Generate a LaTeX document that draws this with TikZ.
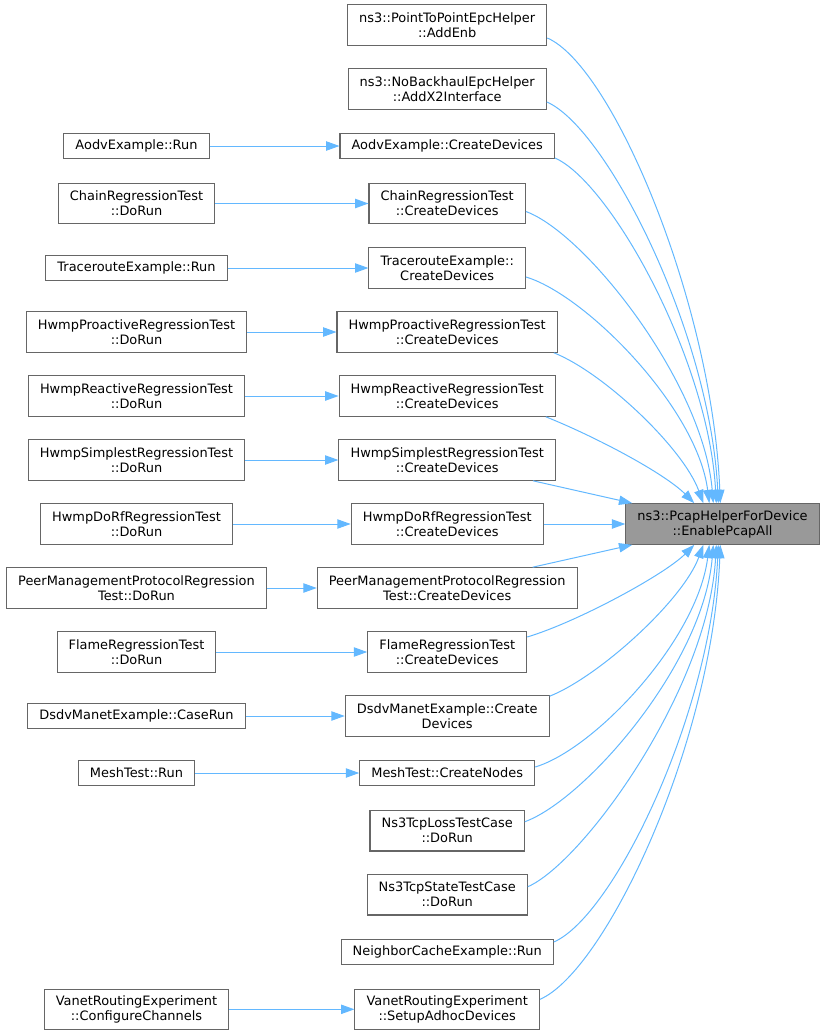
\documentclass[tikz,border=0pt]{standalone}
\usepackage{fontspec}
\setmainfont{DejaVu Sans}
\usetikzlibrary{arrows.meta}
\definecolor{callblue}{RGB}{99,184,255}
\definecolor{boxgray}{RGB}{102,102,102}
\definecolor{tgtgray}{RGB}{153,153,153}
\tikzset{
  fn/.style={draw=boxgray, line width=0.8pt, fill=white, font=\fontsize{9.7pt}{11.25pt}\selectfont,
    inner xsep=8.7pt, inner ysep=1pt, minimum height=19.1pt, align=center},
  fn2/.style={fn, minimum height=30.4pt},
  tgt/.style={fn2, fill=tgtgray},
  call/.style={draw=callblue, line width=0.75pt, -{Triangle[length=10pt,width=7pt]}}
}
\begin{document}
\begin{tikzpicture}[x=0.75pt,y=-0.75pt]
 \useasboundingbox (0,0) rectangle (824,1035);
 % called function
 \node[tgt] (pcapAll) at (722.5,524) {ns3::PcapHelperForDevice\\::EnablePcapAll};
 % direct callers
 \node[fn2] (enbAdd) at (447.2,25) {ns3::PointToPointEpcHelper\\::AddEnb};
 \node[fn2] (x2Add) at (447.2,89) {ns3::NoBackhaulEpcHelper\\::AddX2Interface};
 \node[fn] (aodvDev) at (447.2,146) {AodvExample::CreateDevices};
 \node[fn2] (chainDev) at (447.2,203.5) {ChainRegressionTest\\::CreateDevices};
 \node[fn2] (traceDev) at (447.2,268) {TracerouteExample::\\CreateDevices};
 \node[fn2] (proDev) at (447.2,332) {HwmpProactiveRegressionTest\\::CreateDevices};
 \node[fn2] (reaDev) at (447.2,396) {HwmpReactiveRegressionTest\\::CreateDevices};
 \node[fn2] (simDev) at (447.2,460) {HwmpSimplestRegressionTest\\::CreateDevices};
 \node[fn2] (dorfDev) at (447.2,524) {HwmpDoRfRegressionTest\\::CreateDevices};
 \node[fn2] (peerDev) at (447.2,588) {PeerManagementProtocolRegression\\Test::CreateDevices};
 \node[fn2] (flameDev) at (447.2,652) {FlameRegressionTest\\::CreateDevices};
 \node[fn2] (dsdvDev) at (447.2,716) {DsdvManetExample::Create\\Devices};
 \node[fn] (meshDev) at (447.2,773) {MeshTest::CreateNodes};
 \node[fn2] (lossRun) at (447.2,830.7) {Ns3TcpLossTestCase\\::DoRun};
 \node[fn2] (stateRun) at (447.2,894.7) {Ns3TcpStateTestCase\\::DoRun};
 \node[fn] (cacheRun) at (447.2,952) {NeighborCacheExample::Run};
 \node[fn2] (vanetDev) at (447.2,1009.3) {VanetRoutingExperiment\\::SetupAdhocDevices};
 % second level callers
 \node[fn] (aodvRun) at (136.5,146) {AodvExample::Run};
 \node[fn2] (chainRun) at (136.5,203.5) {ChainRegressionTest\\::DoRun};
 \node[fn] (traceRun) at (136.5,268) {TracerouteExample::Run};
 \node[fn2] (proRun) at (136.5,332) {HwmpProactiveRegressionTest\\::DoRun};
 \node[fn2] (reaRun) at (136.5,396) {HwmpReactiveRegressionTest\\::DoRun};
 \node[fn2] (simRun) at (136.5,460) {HwmpSimplestRegressionTest\\::DoRun};
 \node[fn2] (dorfRun) at (136.5,524) {HwmpDoRfRegressionTest\\::DoRun};
 \node[fn2] (peerRun) at (136.5,588) {PeerManagementProtocolRegression\\Test::DoRun};
 \node[fn2] (flameRun) at (136.5,652) {FlameRegressionTest\\::DoRun};
 \node[fn] (dsdvRun) at (136.5,716) {DsdvManetExample::CaseRun};
 \node[fn] (meshRun) at (136.5,773) {MeshTest::Run};
 \node[fn2] (vanetRun) at (136.5,1009.3) {VanetRoutingExperiment\\::ConfigureChannels};
 % left to middle
 \draw[call] (aodvRun) -- (aodvDev);
 \draw[call] (chainRun) -- (chainDev);
 \draw[call] (traceRun) -- (traceDev);
 \draw[call] (proRun) -- (proDev);
 \draw[call] (reaRun) -- (reaDev);
 \draw[call] (simRun) -- (simDev);
 \draw[call] (dorfRun) -- (dorfDev);
 \draw[call] (peerRun) -- (peerDev);
 \draw[call] (flameRun) -- (flameDev);
 \draw[call] (dsdvRun) -- (dsdvDev);
 \draw[call] (meshRun) -- (meshDev);
 \draw[call] (vanetRun) -- (vanetDev);
 % middle to target, upper half
 \draw[call] ([shift={(0,13)}]enbAdd.east) .. controls +(65,28) and +(-8,-200) .. ([shift={(95,0)}]pcapAll.north west);
 \draw[call] ([shift={(0,13)}]x2Add.east) .. controls +(60,26) and +(-8,-170) .. ([shift={(93,0)}]pcapAll.north west);
 \draw[call] ([shift={(0,12)}]aodvDev.east) .. controls +(55,24) and +(-8,-145) .. ([shift={(91,0)}]pcapAll.north west);
 \draw[call] ([shift={(0,8)}]chainDev.east) .. controls +(60,22) and +(-10,-120) .. ([shift={(88,0)}]pcapAll.north west);
 \draw[call] ([shift={(0,9)}]traceDev.east) .. controls +(60,18) and +(-12,-95) .. ([shift={(84,0)}]pcapAll.north west);
 \draw[call] ([shift={(-4,0)}]proDev.south east) .. controls +(50,20) and +(-20,-55) .. ([shift={(78,0)}]pcapAll.north west);
 \draw[call] ([shift={(-10,0)}]reaDev.south east) .. controls +(50,20) and +(-30,-30) .. ([shift={(69,0)}]pcapAll.north west);
 \draw[call] ([shift={(-23,0)}]simDev.south east) -- ([shift={(7,0)}]pcapAll.north west);
 \draw[call] (dorfDev) -- (pcapAll);
 % middle to target, lower half
 \draw[call] ([shift={(-45,0)}]peerDev.north east) -- ([shift={(7,0)}]pcapAll.south west);
 \draw[call] ([shift={(0,-15)}]flameDev.east) .. controls +(50,-15) and +(-30,30) .. ([shift={(69,0)}]pcapAll.south west);
 \draw[call] ([shift={(0,1)}]dsdvDev.north east) .. controls +(50,-20) and +(-20,55) .. ([shift={(78,0)}]pcapAll.south west);
 \draw[call] ([shift={(0,-6)}]meshDev.east) .. controls +(60,-18) and +(-12,95) .. ([shift={(84,0)}]pcapAll.south west);
 \draw[call] ([shift={(0,-9)}]lossRun.east) .. controls +(60,-22) and +(-10,120) .. ([shift={(88,0)}]pcapAll.south west);
 \draw[call] ([shift={(0,-8)}]stateRun.east) .. controls +(55,-24) and +(-8,145) .. ([shift={(91,0)}]pcapAll.south west);
 \draw[call] ([shift={(0,-10)}]cacheRun.east) .. controls +(60,-26) and +(-8,170) .. ([shift={(93,0)}]pcapAll.south west);
 \draw[call] ([shift={(0,-10)}]vanetDev.east) .. controls +(65,-28) and +(-8,200) .. ([shift={(95,0)}]pcapAll.south west);
\end{tikzpicture}
\end{document}
